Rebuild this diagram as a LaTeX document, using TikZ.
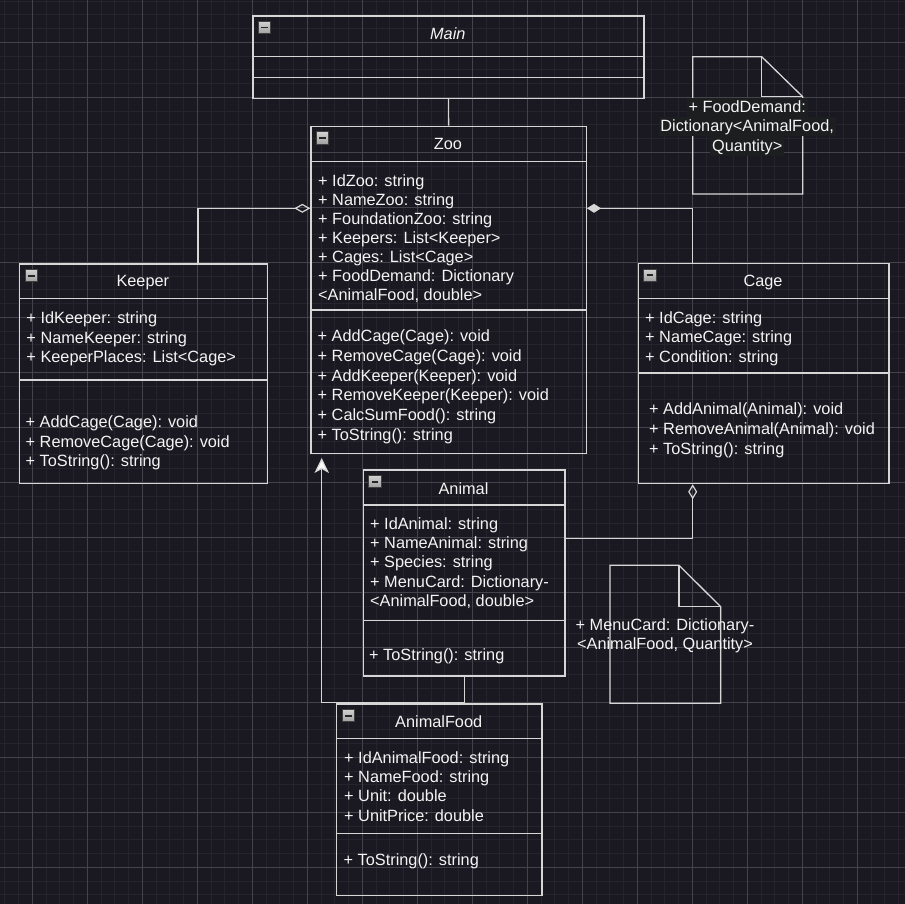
\documentclass[tikz,border=0pt]{standalone}
\usepackage{fontspec}
\setmainfont{Liberation Sans}
\usetikzlibrary{arrows.meta}
\definecolor{bg}{HTML}{1A1820}
\definecolor{gminor}{HTML}{25232B}
\definecolor{gmajor}{HTML}{44424A}
\definecolor{ln}{HTML}{D6D6D6}
\definecolor{tx}{HTML}{F4F4F4}
\definecolor{lblbg}{HTML}{1C1E1F}
\tikzset{
  txt/.style={text=tx, inner sep=0pt, font=\fontsize{16.3}{19.5}\selectfont},
  cls/.style={draw=ln, line width=1.3pt, inner sep=0pt, anchor=north west},
  sep/.style={draw=ln, line width=1.3pt},
  conn/.style={draw=ln, line width=1.3pt},
  lbl/.style={txt, fill=lblbg, inner xsep=1.7pt, inner ysep=0pt, text height=14.6pt, text depth=4.7pt, anchor=north},
  colicon/.pic={
    \fill[top color=gray!35, bottom color=gray!75] (0,0) rectangle (12.5,12.5);
    \draw[gray!50!black, line width=0.8pt] (0,0) rectangle (12.5,12.5);
    \draw[black!85, line width=1.8pt] (3,6.3) -- (9.5,6.3);
  }
}
\newcommand\umllines[5]{%
  \foreach \t [count=\i] in {#5}
    \node[txt, anchor=base west] (#1\i) at (#2, {#3+5.8+#4*(\i-1)}) {\t};%
}
\begin{document}
\begin{tikzpicture}[x=1pt,y=-1pt]
\fill[bg] (0,0) rectangle (905,904);
\useasboundingbox (0,0) rectangle (905,904);
% grid
\foreach \i in {0,...,66} \draw[gminor, line width=1pt] ({4.8+13.75*\i},0) -- ({4.8+13.75*\i},904);
\foreach \i in {0,...,66} \draw[gminor, line width=1pt] (0,{1.05+13.75*\i}) -- (905,{1.05+13.75*\i});
\foreach \i in {0,...,16} \draw[gmajor, line width=1pt] ({32.3+55*\i},0) -- ({32.3+55*\i},904);
\foreach \i in {0,...,16} \draw[gmajor, line width=1pt] (0,{42.3+55*\i}) -- (905,{42.3+55*\i});

% ---------- Main
\node[cls, minimum width=391pt, minimum height=82.4pt] (main) at (252.3,15.3) {};
\draw[sep] (252.3,56.7) -- (643.3,56.7);
\draw[sep] (252.3,77.3) -- (643.3,77.3);
\pic at (258,21.3) {colicon};
\node[txt, anchor=base, font=\fontsize{16.3}{19.5}\selectfont\itshape] (maint) at (447.8,40) {Main};

% ---------- Zoo
\node[cls, minimum width=275.4pt, minimum height=327pt] (zoo) at (310.3,125.7) {};
\draw[sep] (310.3,161.7) -- (585.7,161.7);
\draw[sep] (310.3,310) -- (585.7,310);
\pic at (316.3,131.7) {colicon};
\node[txt, anchor=base] (zoot) at (448,149.8) {Zoo};
\umllines{zooa}{318}{180.7}{19.0}{+ IdZoo: string, + NameZoo: string, + FoundationZoo: string, + Keepers: List<Keeper>, + Cages: List<Cage>, + FoodDemand: Dictionary, {<AnimalFood, double>}}
\umllines{zoom}{317.5}{335.7}{19.8}{+ AddCage(Cage): void, + RemoveCage(Cage): void, + AddKeeper(Keeper): void, + RemoveKeeper(Keeper): void, + CalcSumFood(): string, + ToString(): string}

% ---------- Keeper
\node[cls, minimum width=247.7pt, minimum height=219.4pt] (keeper) at (19,263.3) {};
\draw[sep] (19,298.7) -- (266.7,298.7);
\draw[sep] (19,380) -- (266.7,380);
\pic at (25,269.3) {colicon};
\node[txt, anchor=base] (keepert) at (142.8,286.8) {Keeper};
\umllines{keepera}{26.3}{317.7}{19.5}{+ IdKeeper: string, + NameKeeper: string, + KeeperPlaces: List<Cage>}
\umllines{keeperm}{25.5}{421.7}{19.7}{+ AddCage(Cage): void, + RemoveCage(Cage): void, + ToString(): string}

% ---------- Cage
\node[cls, minimum width=250.6pt, minimum height=220pt] (cage) at (637.7,263) {};
\draw[sep] (637.7,298.7) -- (888.3,298.7);
\draw[sep] (637.7,373) -- (888.3,373);
\pic at (643.7,269) {colicon};
\node[txt, anchor=base] (caget) at (763,286.8) {Cage};
\umllines{cagea}{645}{317.7}{19.3}{+ IdCage: string, + NameCage: string, + Condition: string}
\umllines{cagem}{649}{408.3}{20}{+ AddAnimal(Animal): void, + RemoveAnimal(Animal): void, + ToString(): string}

% ---------- Animal
\node[cls, minimum width=201.6pt, minimum height=206pt] (animal) at (362.7,469.3) {};
\draw[sep] (362.7,505) -- (564.3,505);
\draw[sep] (362.7,620.7) -- (564.3,620.7);
\pic at (368.7,475.3) {colicon};
\node[txt, anchor=base] (animalt) at (463.5,494.1) {Animal};
\umllines{animala}{370}{523.3}{19.35}{+ IdAnimal: string, + NameAnimal: string, + Species: string, + MenuCard: Dictionary-, {<AnimalFood, double>}}
\umllines{animalm}{369}{655}{19.5}{+ ToString(): string}

% ---------- AnimalFood
\node[cls, minimum width=205.3pt, minimum height=191.7pt] (food) at (336,703.3) {};
\draw[sep] (336,738.7) -- (541.3,738.7);
\draw[sep] (336,833.7) -- (541.3,833.7);
\pic at (342,709.3) {colicon};
\node[txt, anchor=base] (foodt) at (438.7,727.1) {AnimalFood};
\umllines{fooda}{344}{757.3}{19.3}{+ IdAnimalFood: string, + NameFood: string, + Unit: double, + UnitPrice: double}
\umllines{foodm}{343.5}{860}{19.5}{+ ToString(): string}

% ---------- notes
\draw[sep, line join=miter] (692.7,56.7) -- (761.7,56.7) -- (802.7,96.7) -- (802.7,194) -- (692.7,194) -- cycle;
\draw[sep] (761.7,56.7) -- (761.7,96.7) -- (802.7,96.7);
\node[lbl] (fd1) at (747.2,97.7) {+ FoodDemand:};
\node[lbl] (fd2) at (747.2,117.0) {Dictionary<AnimalFood,};
\node[lbl] (fd3) at (747.2,136.3) {Quantity>};

\draw[sep, line join=miter] (610,565.3) -- (679,565.3) -- (720.7,606.7) -- (720.7,703.3) -- (610,703.3) -- cycle;
\draw[sep] (679,565.3) -- (679,606.7) -- (720.7,606.7);
\node[txt, anchor=base] (mc1) at (665,630.8) {+ MenuCard: Dictionary-};
\node[txt, anchor=base] (mc2) at (665,649.8) {<AnimalFood, Quantity>};

% ---------- connectors
\draw[conn] (main.south) -- (zoo.north);
\draw[conn, -{Diamond[open, length=16pt, width=9pt, line width=1.2pt]}] ([xshift=179pt]keeper.north west) |- (zoo.west |- 0,208.3);
\draw[conn, {Diamond[length=14pt, width=9pt]}-] (zoo.east |- 0,208.3) -| (cage.north -| 692.7,0);
\draw[conn, {Diamond[open, length=15pt, width=9pt, line width=1.2pt]}-] (cage.south -| 692.7,0) |- (animal.east |- 0,538.3);
\draw[conn, shorten >=4pt, -{Stealth[length=15pt, width=14.5pt, inset=4pt, fill=white]}] (animal.south) |- (321.7,702.7) -- (zoo.south -| 321.7,0);
\end{tikzpicture}
\end{document}
